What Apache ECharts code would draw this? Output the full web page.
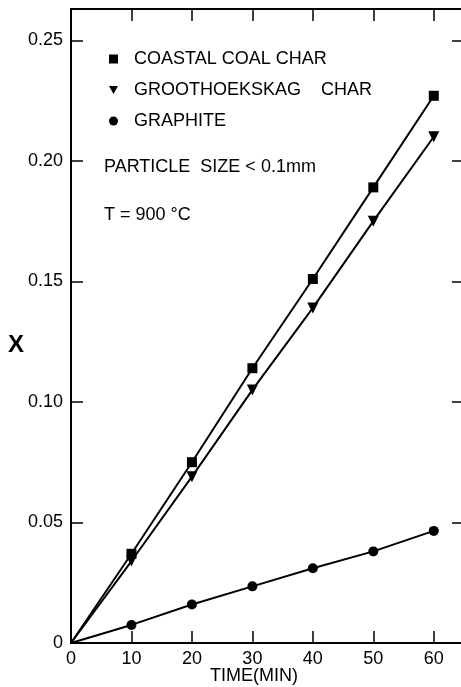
<!DOCTYPE html>
<html>
<head>
<meta charset="utf-8">
<script src="https://cdn.jsdelivr.net/npm/echarts@6/dist/echarts.min.js"></script>
<style>html,body{margin:0;padding:0;background:#fff}#c{width:461px;height:687px}</style>
</head>
<body>
<div id="c"></div>
<script>
// Data
var times = [0, 10, 20, 30, 40, 50, 60];
var coastal = [0, 0.037, 0.075, 0.114, 0.151, 0.189, 0.227];
var groot = [0, 0.034, 0.069, 0.105, 0.139, 0.175, 0.210];
var graphite = [0, 0.0075, 0.016, 0.0235, 0.031, 0.038, 0.0465];
var seriesNames = ['COASTAL COAL CHAR', 'GROOTHOEKSKAG    CHAR', 'GRAPHITE'];
var xTitle = 'TIME(MIN)', yTitle = 'X';
var xTickStep = 10, yTickStep = 0.05;

var FONT = 'Liberation Sans';
var triPath = 'path://M0,0L10,0L5,9Z';

function build(vals) {
  return times.map(function (t, i) {
    if (t === 0) return { value: [t, vals[i]], symbol: 'none' };
    return [t, vals[i]];
  });
}

var chart = echarts.init(document.getElementById('c'), null, { renderer: 'canvas' });
var axisCommon = {
  type: 'value',
  axisLine: { show: true, onZero: false, lineStyle: { color: '#000', width: 2 } },
  axisTick: { show: true, inside: true, length: 12, lineStyle: { color: '#000', width: 1.5 } },
  splitLine: { show: false }
};
function xAxis(pos, showLabel) {
  return Object.assign({}, axisCommon, {
    position: pos, min: 0, max: 65, interval: xTickStep,
    axisLabel: {
      show: showLabel, color: '#000', fontFamily: FONT, fontSize: 18, margin: 7,
      formatter: function (v) { return (v % 10 === 0) ? String(v) : ''; }
    }
  });
}
function yAxis(pos, showLabel) {
  return Object.assign({}, axisCommon, {
    position: pos, min: 0, max: 0.263, interval: yTickStep,
    axisLabel: {
      show: showLabel, color: '#000', fontFamily: FONT, fontSize: 18, margin: 8,
      formatter: function (v) {
        var k = Math.round(v / 0.05);
        if (Math.abs(v - k * 0.05) > 1e-6) return '';
        return k === 0 ? '0' : v.toFixed(2);
      }
    }
  });
}

var lineStyle = { color: '#000', width: 2 };
chart.setOption({
  backgroundColor: '#fff',
  animation: false,
  grid: { left: 71, top: 9, bottom: 44, width: 393, containLabel: false, outerBoundsMode: 'none' },
  xAxis: [xAxis('bottom', true), xAxis('top', false)],
  yAxis: [yAxis('left', true), yAxis('right', false)],
  legend: {
    orient: 'vertical', left: 104, top: 45, itemWidth: 9, itemHeight: 9, itemGap: 13,
    textStyle: { color: '#000', fontFamily: FONT, fontSize: 18, lineHeight: 18, padding: [0, 0, 0, 11] },
    data: [
      { name: seriesNames[0], icon: 'rect' },
      { name: seriesNames[1], icon: triPath },
      { name: seriesNames[2], icon: 'circle' }
    ]
  },
  graphic: [
    { type: 'text', left: 104, top: 158, style: { text: 'PARTICLE  SIZE < 0.1mm', fill: '#000', font: '18px "' + FONT + '"' } },
    { type: 'text', left: 104, top: 206, style: { text: 'T = 900 °C', fill: '#000', font: '18px "' + FONT + '"' } },
    { type: 'text', left: 8, top: 333, style: { text: yTitle, fill: '#000', font: 'bold 24px "' + FONT + '"' } },
    { type: 'text', left: 210, top: 667, style: { text: xTitle, fill: '#000', font: '18px "' + FONT + '"' } }
  ],
  series: [
    { name: seriesNames[0], type: 'line', data: build(coastal), symbol: 'rect', symbolSize: 10,
      showAllSymbol: true, lineStyle: lineStyle, itemStyle: { color: '#000' } },
    { name: seriesNames[1], type: 'line', data: build(groot), symbol: 'triangle', symbolRotate: 180, symbolSize: 11,
      showAllSymbol: true, lineStyle: lineStyle, itemStyle: { color: '#000' } },
    { name: seriesNames[2], type: 'line', data: build(graphite), symbol: 'circle', symbolSize: 10,
      showAllSymbol: true, lineStyle: lineStyle, itemStyle: { color: '#000' } }
  ]
});
</script>
</body>
</html>
